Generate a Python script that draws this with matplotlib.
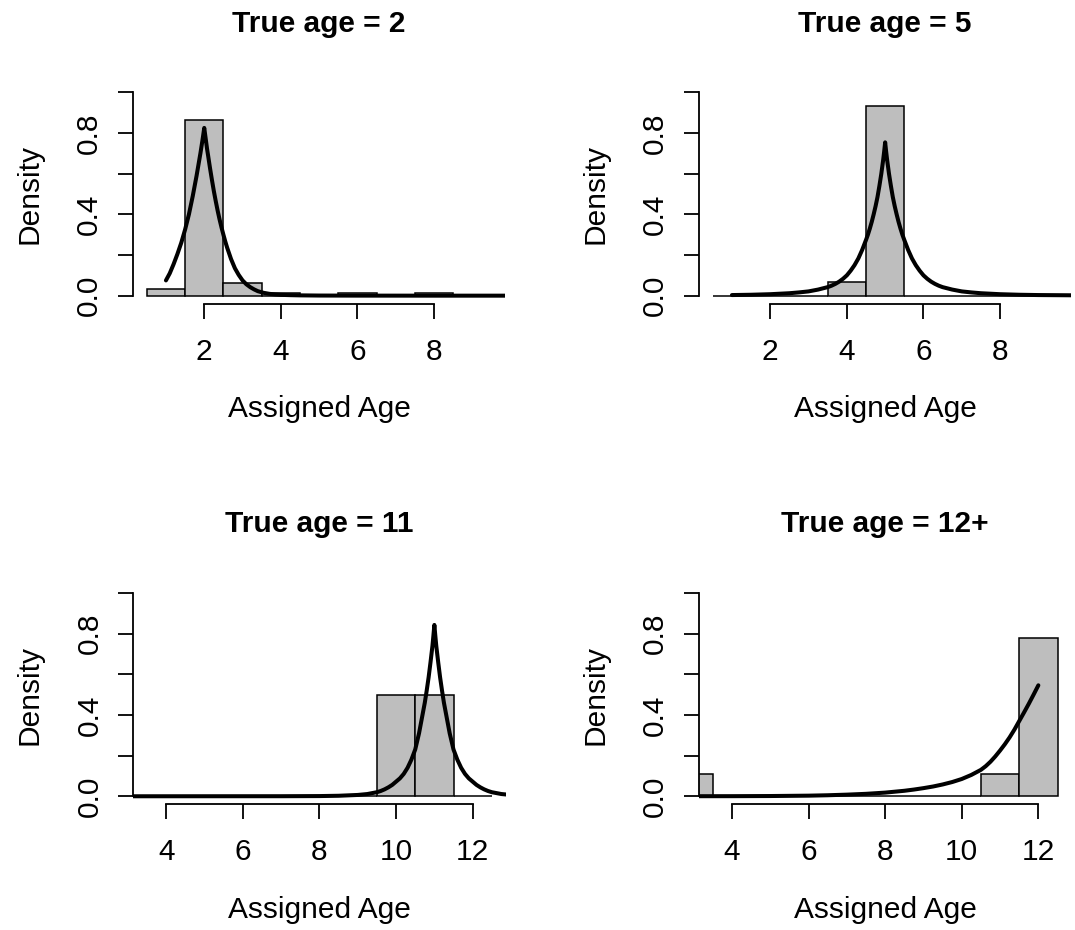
import numpy as np
import matplotlib.pyplot as plt

plt.rcParams['font.family'] = ['Liberation Sans', 'DejaVu Sans']

W, H = 1075, 930

titles = ["True age = 2", "True age = 5", "True age = 11", "True age = 12+"]

# histogram bins (centres, width 1) and densities
bins_top = [1, 2, 3, 4, 5, 6, 7, 8, 9]
dens_age2 = [0.031, 0.862, 0.062, 0.015, 0.0, 0.015, 0.0, 0.015, 0.0]
dens_age5 = [0.0, 0.0, 0.0, 0.067, 0.933, 0.0, 0.0, 0.0, 0.0]
bins_bottom = [3, 4, 5, 6, 7, 8, 9, 10, 11, 12]
dens_age11 = [0.0, 0.0, 0.0, 0.0, 0.0, 0.0, 0.0, 0.5, 0.5, 0.0]
dens_age12 = [0.111, 0.0, 0.0, 0.0, 0.0, 0.0, 0.0, 0.0, 0.111, 0.778]

# fitted error curves
curve2_x = [1.0, 1.1, 1.2, 1.3, 1.4, 1.5, 1.6, 1.7, 1.8, 1.85, 1.9, 1.95, 1.975, 2.0,
            2.025, 2.05, 2.075, 2.1, 2.15, 2.2, 2.25, 2.3, 2.35, 2.4, 2.45, 2.5, 2.55, 2.6,
            2.7, 2.8, 2.9, 3.0, 3.1, 3.2, 3.3, 3.4, 3.55, 3.7, 3.85, 4.0, 4.25, 4.5, 5.0,
            6.0, 7.0, 8.0, 10.0]
curve2_y = [0.075, 0.11, 0.155, 0.205, 0.26, 0.325, 0.40, 0.49, 0.59, 0.645, 0.70, 0.76, 0.792, 0.825,
            0.79, 0.755, 0.72, 0.69, 0.628, 0.57, 0.515, 0.465, 0.418, 0.375, 0.336, 0.30, 0.266, 0.235,
            0.18, 0.135, 0.102, 0.075, 0.056, 0.042, 0.031, 0.022, 0.014, 0.009, 0.006, 0.004, 0.0025,
            0.0015, 0.0006, 0.0002, 0.0001, 0.0, 0.0]

curve5_x = [1.0, 1.5, 2.0, 2.5, 2.75, 3.0, 3.25, 3.5, 3.6, 3.7, 3.8, 3.9, 4.0, 4.1, 4.2, 4.3,
            4.4, 4.5, 4.55, 4.6, 4.65, 4.7, 4.75, 4.8, 4.85, 4.9, 4.925, 4.95, 4.975, 5.0,
            5.025, 5.05, 5.075, 5.1, 5.15, 5.2, 5.25, 5.3, 5.35, 5.4, 5.45, 5.5, 5.6, 5.7,
            5.8, 5.9, 6.0, 6.1, 6.2, 6.3, 6.4, 6.5, 6.75, 7.0, 7.25, 7.5, 8.0, 8.5, 9.0, 10.0]
curve5_y = [0.003, 0.0045, 0.0072, 0.012, 0.016, 0.021, 0.030, 0.042, 0.049, 0.058, 0.069, 0.083,
            0.10, 0.123, 0.150, 0.183, 0.225, 0.274, 0.30, 0.33, 0.363, 0.40, 0.44, 0.485, 0.54,
            0.60, 0.635, 0.67, 0.71, 0.754,
            0.71, 0.67, 0.635, 0.60, 0.54, 0.485, 0.44, 0.40, 0.363, 0.33, 0.30, 0.274, 0.225,
            0.183, 0.150, 0.123, 0.10, 0.083, 0.069, 0.058, 0.049, 0.042, 0.030, 0.021, 0.016,
            0.012, 0.0072, 0.0045, 0.003, 0.0017]

curve11_x = [3.0, 7.0, 8.0, 8.5, 9.0, 9.25, 9.5, 9.6, 9.7, 9.8, 9.9, 10.0, 10.1, 10.2, 10.3,
             10.4, 10.5, 10.55, 10.6, 10.65, 10.7, 10.75, 10.8, 10.85, 10.9, 10.925, 10.95,
             10.975, 11.0, 11.025, 11.05, 11.075, 11.1, 11.15, 11.2, 11.25, 11.3, 11.35, 11.4,
             11.45, 11.5, 11.6, 11.7, 11.8, 11.9, 12.0, 12.1, 12.2, 12.3, 12.4, 12.5, 12.75, 13.0]
curve11_y = [0.0, 0.0003, 0.001, 0.0025, 0.0065, 0.011, 0.02, 0.026, 0.034, 0.044, 0.056, 0.072,
             0.088, 0.11, 0.14, 0.18, 0.23, 0.27, 0.31, 0.36, 0.41, 0.46, 0.52, 0.585, 0.66, 0.70,
             0.74, 0.79, 0.843, 0.79, 0.74, 0.70, 0.66, 0.585, 0.52, 0.46, 0.41, 0.36, 0.31, 0.27,
             0.23, 0.18, 0.14, 0.11, 0.088, 0.072, 0.056, 0.044, 0.034, 0.026, 0.02, 0.011, 0.0065]

curve12_x = [3.0, 4.0, 5.0, 6.0, 6.5, 7.0, 7.5, 8.0, 8.5, 8.75, 9.0, 9.25, 9.5, 9.75, 10.0,
             10.25, 10.5, 10.625, 10.75, 10.875, 11.0, 11.125, 11.25, 11.375, 11.5, 11.625,
             11.75, 11.875, 12.0]
curve12_y = [0.0003, 0.0005, 0.0012, 0.003, 0.005, 0.008, 0.012, 0.018, 0.027, 0.033, 0.04, 0.048,
             0.058, 0.07, 0.085, 0.105, 0.13, 0.148, 0.17, 0.196, 0.225, 0.256, 0.29, 0.328, 0.37,
             0.412, 0.455, 0.50, 0.546]

xticks_top = [2, 4, 6, 8]
xticks_bottom = [4, 6, 8, 10, 12]
yticks = [0.0, 0.2, 0.4, 0.6, 0.8, 1.0]
ytick_labels = ["0.0", "", "0.4", "", "0.8", ""]

# plot regions in pixels: left, top, right, bottom
regions = [(133.0, 84.2, 505.3, 303.8), (699.0, 84.2, 1071.3, 303.8),
           (133.3, 584.9, 505.6, 804.4), (699.0, 584.9, 1071.3, 804.4)]

panels = [
    (bins_top, dens_age2, curve2_x, curve2_y, xticks_top, (0.14, 9.86)),
    (bins_top, dens_age5, curve5_x, curve5_y, xticks_top, (0.14, 9.86)),
    (bins_bottom, dens_age11, curve11_x, curve11_y, xticks_bottom, (3.14, 12.86)),
    (bins_bottom, dens_age12, curve12_x, curve12_y, xticks_bottom, (3.14, 12.86)),
]

fs = 21.5
lw_axis = 1.3

fig = plt.figure(figsize=(W / 100, H / 100), dpi=100)

for i, (bins, dens, cx, cy, xt, xl) in enumerate(panels):
    l, t, r, b = regions[i]
    ax = fig.add_axes([l / W, 1 - b / H, (r - l) / W, (b - t) / H])
    ax.bar(bins, dens, width=1.0, color="#BEBEBE", edgecolor="black", linewidth=1.1)
    ax.plot(cx, cy, color="black", linewidth=2.9, solid_capstyle="round", solid_joinstyle="round")
    ax.set_xlim(*xl)
    ax.set_ylim(-0.04, 1.04)

    for s in ["top", "right"]:
        ax.spines[s].set_visible(False)
    ax.spines["left"].set_bounds(0, 1)
    ax.spines["bottom"].set_bounds(xt[0], xt[-1])
    for s in ["left", "bottom"]:
        ax.spines[s].set_linewidth(lw_axis)

    ax.set_xticks(xt)
    ax.set_xticklabels([str(v) for v in xt])
    ax.set_yticks(yticks)
    ax.set_yticklabels(ytick_labels)
    ax.tick_params(axis="both", direction="out", length=10.8, width=lw_axis, labelsize=fs)
    ax.tick_params(axis="x", pad=13.7)
    ax.tick_params(axis="y", pad=10.6)
    plt.setp(ax.get_yticklabels(), rotation=90, va="center")

    cxp = (l + r) / 2
    row_off = 0 if i < 2 else 500.6
    col_off = 0 if i % 2 == 0 else 566
    fig.text(cxp / W, 1 - (31.7 + row_off) / H, titles[i], ha="center", va="baseline",
             fontsize=fs, fontweight="bold")
    fig.text(cxp / W, 1 - (417 + row_off) / H, "Assigned Age", ha="center", va="baseline",
             fontsize=fs)
    fig.text((37 + col_off) / W, 1 - ((t + b) / 2) / H, "Density", rotation=90,
             rotation_mode="anchor", ha="center", va="baseline", fontsize=fs)

fig.savefig("out.png", dpi=100)
